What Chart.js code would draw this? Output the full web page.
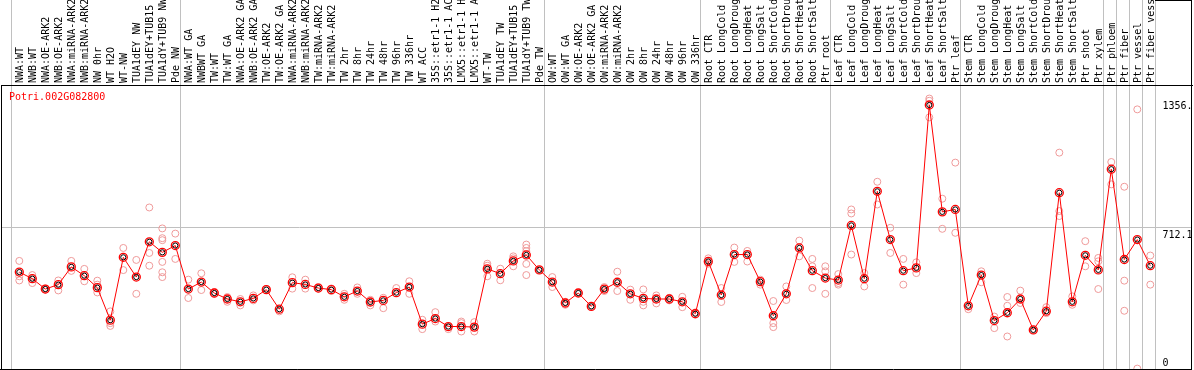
<!DOCTYPE html>
<html><head><meta charset="utf-8">
<script src="https://cdn.jsdelivr.net/npm/chart.js@4"></script>
<style>html,body{margin:0;padding:0;background:#fff}#wrap{width:1194px;height:370px}</style>
</head><body><div id="wrap"><canvas id="c" width="1194" height="370"></canvas></div>
<script>
const geneTitle = 'Potri.002G082800';
const categories = [
 'NWA:WT','NWB:WT','NWA:OE-ARK2','NWB:OE-ARK2','NWA:miRNA-ARK2','NWB:miRNA-ARK2','NW 0hr','WT H2O','WT-NW','TUA1dEY NW','TUA1dEY+TUB15','TUA1dY+TUB9 NW','Pde NW',
 'NWA:WT GA','NWBWT GA','TW:WT','TW:WT GA','NWA:OE-ARK2 GA','NWB:OE-ARK2 GA','TW:OE-ARK2','TW:OE-ARK2 GA','NWA:miRNA-ARK2','NWB:miRNA-ARK2','TW:miRNA-ARK2','TW:miRNA-ARK2','TW 2hr','TW 8hr','TW 24hr','TW 48hr','TW 96hr','TW 336hr','WT ACC','35S::etr1-1 H2O','35S::etr1-1 ACC','LMX5::etr1-1 H2O','LMX5::etr1-1 ACC','WT-TW','TUA1dEY TW','TUA1dEY+TUB15','TUA1dY+TUB9 TW','Pde TW',
 'OW:WT','OW:WT GA','OW:OE-ARK2','OW:OE-ARK2 GA','OW:miRNA-ARK2','OW:miRNA-ARK2','OW 2hr','OW 8hr','OW 24hr','OW 48hr','OW 96hr','OW 336hr',
 'Root CTR','Root LongCold','Root LongDrought','Root LongHeat','Root LongSalt','Root ShortCold','Root ShortDrought','Root ShortHeat','Root ShortSalt','Ptr root',
 'Leaf CTR','Leaf LongCold','Leaf LongDrought','Leaf LongHeat','Leaf LongSalt','Leaf ShortCold','Leaf ShortDrought','Leaf ShortHeat','Leaf ShortSalt','Ptr leaf',
 'Stem CTR','Stem LongCold','Stem LongDrought','Stem LongHeat','Stem LongSalt','Stem ShortCold','Stem ShortDrought','Stem ShortHeat','Stem ShortSalt','Ptr shoot','Ptr xylem',
 'Ptr phloem','Ptr fiber','Ptr vessel','Ptr fiber vessel'
];
const means = [486,453,401,423,512,468,408,245,560,461,638,585,619,401,436,381,351,337,354,398,
 300,433,424,406,398,362,391,336,344,383,411,225,253,213,213,210,502,478,542,572,
 497,436,331,381,314,401,435,377,354,351,351,337,277,539,371,574,574,438,267,377,
 607,493,456,446,720,453,891,649,493,507,1324,788,800,317,471,243,282,351,196,290,
 884,337,570,497,1002,549,649,518];
const replicates = [
 [542,465,444],[471,456,431],[404,401,398],[444,394],[542,492],[502,440],[443,423,384],[289,230,216],[607,496],[547,377],
 [810,582,518],[705,656,646,537,485,461],[679,552],[448,356],[480,396],[386,376],[361,337],[351,319],[369,344],[401],
 [289],[460,403],[448,403],[411,403],[404,391],[377,347],[409,377],[347,319],[357,305],[406],
 [440,377],[247,200],[285,238],[210,200],[238,230,188],[235,188],[528,518,465],[503,445],[565,555,515],[624,607,591,527,471],
 [497],[461,411],[337,322],[381],[314],[411,391],[488,391],[398,347],[399,337,319],[369,329],
 [357,344],[362,310],[284],[555,528],[406,336],[609,537],[592,539],[448,423],[341,230,210],[414,346],
 [644,565],[552,515,406],[515,490,377],[476,431,423],[800,780,574],[481,414],[939,825],[708,582],[552,423],[535,481],
 [1356.3,1345,1262],[854,703],[1035,683],[300],[490,435],[263,205],[361,317,163],[393,331],[196],[310,280],
 [1085,792,767],[364,322],[641,515],[557,540,401],[1038,926],[914,443,292],[1302,2],[569,423]
];
const groupStarts = [0,13,41,53,63,73,84,85,86,87,88];
const yTickValues = [0, 712.1, 1356.3];
const yTickLabels = ['0', '712.1', '1356.'];
const yMax = 1424.2;

const MONO = '"DejaVu Sans Mono", "Liberation Mono", monospace';
const xMin = -1.408, xMax = 90.208;

const meanPts = means.map((v, i) => ({x: i, y: v}));
const repPts = [];
replicates.forEach((arr, i) => arr.forEach(v => repPts.push({x: i, y: v})));

const overlay = {
  id: 'overlay',
  afterDraw(chart) {
    const {ctx, chartArea, scales} = chart;
    ctx.save();
    ctx.font = '10px ' + MONO;
    ctx.fillStyle = '#000000';
    ctx.textAlign = 'left';
    ctx.textBaseline = 'middle';
    categories.forEach((c, i) => {
      const px = scales.x.getPixelForValue(i);
      ctx.save();
      ctx.translate(px + 1, chartArea.top - 2);
      ctx.rotate(-Math.PI / 2);
      ctx.fillText(c, 0, 0);
      ctx.restore();
    });
    ctx.textBaseline = 'alphabetic';
    ctx.fillStyle = '#ff0000';
    ctx.fillText(geneTitle, chartArea.left + 8, chartArea.top + 15);
    ctx.fillStyle = '#000000';
    yTickValues.forEach((v, k) => {
      const py = scales.y.getPixelForValue(v);
      const ty = Math.min(py + 10.5, chartArea.bottom - 3);
      ctx.fillText(yTickLabels[k], chartArea.right - 29.5, ty);
    });
    ctx.strokeStyle = '#000000';
    ctx.lineWidth = 1;
    ctx.beginPath();
    const r = Math.round(chartArea.right) - 0.5;
    ctx.moveTo(r, 0); ctx.lineTo(r, chartArea.bottom + 1);
    const gx = scales.xb.getPixelForValue(groupStarts[groupStarts.length - 1] - 0.62);
    ctx.moveTo(Math.round(gx), 0.5); ctx.lineTo(r, 0.5);
    ctx.moveTo(0, Math.round(chartArea.bottom) + 0.5); ctx.lineTo(r, Math.round(chartArea.bottom) + 0.5);
    ctx.stroke();
    ctx.restore();
  }
};

new Chart(document.getElementById('c'), {
  data: {
    datasets: [
      { type: 'scatter', label: 'replicates', data: repPts, order: 3,
        pointRadius: 3.5, pointBorderWidth: 1, pointBorderColor: '#ef9a9a',
        pointBackgroundColor: 'rgba(0,0,0,0)', pointHoverRadius: 3.5, xAxisID: 'x', yAxisID: 'y' },
      { type: 'line', label: 'mean', data: meanPts, order: 2, borderColor: '#ff0000', borderWidth: 1,
        tension: 0, pointRadius: 4, pointBorderWidth: 1.3, pointBorderColor: '#ff0000',
        pointBackgroundColor: 'rgba(0,0,0,0)', xAxisID: 'x', yAxisID: 'y' },
      { type: 'scatter', label: 'meanCore', data: meanPts, order: 1,
        pointRadius: 2.6, pointBorderWidth: 1, pointBorderColor: '#000000',
        pointBackgroundColor: 'rgba(0,0,0,0)', xAxisID: 'x', yAxisID: 'y' }
    ]
  },
  options: {
    responsive: false,
    animation: false,
    devicePixelRatio: 1,
    layout: { autoPadding: false, padding: { left: 1, right: 2, top: 0, bottom: 1 } },
    plugins: { legend: { display: false }, tooltip: { enabled: false }, title: { display: false } },
    scales: {
      x: {
        type: 'linear', display: false, min: xMin, max: xMax, bounds: 'data'
      },
      xb: {
        type: 'linear', position: 'top', min: xMin, max: xMax, bounds: 'data',
        afterBuildTicks: (s) => { s.ticks = groupStarts.map(g => ({ value: g - 0.62 })); },
        grid: { display: true, color: '#c0c0c0', lineWidth: 1, drawTicks: true, tickLength: 85, drawOnChartArea: true },
        border: { display: true, color: '#000000', width: 1 },
        ticks: { display: false }
      },
      y: {
        type: 'linear', position: 'left', min: 0, max: yMax,
        afterBuildTicks: (s) => { s.ticks = yTickValues.map(v => ({ value: v })); },
        grid: { color: (c) => (c.tick && c.tick.value === yTickValues[1]) ? '#c0c0c0' : 'rgba(0,0,0,0)', drawTicks: false },
        border: { display: true, color: '#000000', width: 1 },
        ticks: { display: false }
      }
    }
  },
  plugins: [overlay]
});
</script>
</body></html>
